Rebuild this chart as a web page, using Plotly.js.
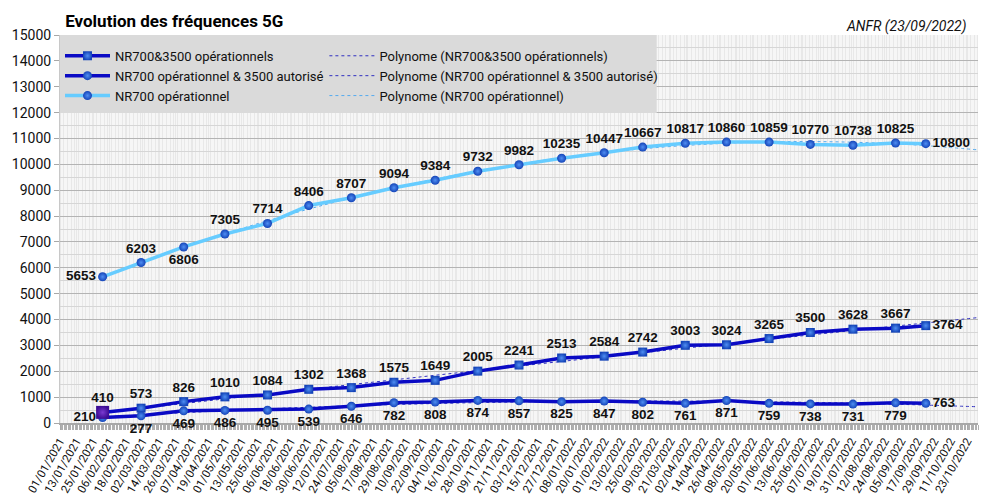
<!DOCTYPE html>
<html>
<head>
<meta charset="utf-8">
<script src="https://cdn.plot.ly/plotly-3.0.1.min.js"></script>
<style>
  html, body { margin: 0; padding: 0; background: #fff; }
  #chart { width: 1003px; height: 499px; }
</style>
</head>
<body>
<div id="chart"></div>
<script>
// dates des relevés ANFR
var dates = ['2021-02-01', '2021-03-01', '2021-04-01', '2021-05-01', '2021-06-01',
             '2021-07-01', '2021-08-01', '2021-09-01', '2021-10-01', '2021-11-01',
             '2021-12-01', '2022-01-01', '2022-02-01', '2022-03-01', '2022-04-01',
             '2022-05-01', '2022-06-01', '2022-07-01', '2022-08-01', '2022-09-01',
             '2022-09-23'];

var nr700 = [5653, 6203, 6806, 7305, 7714, 8406, 8707, 9094, 9384, 9732, 9982,
             10235, 10447, 10667, 10817, 10860, 10859, 10770, 10738, 10825, 10800];

var nr700_3500 = [410, 573, 826, 1010, 1084, 1302, 1368, 1575, 1649, 2005, 2241,
                  2513, 2584, 2742, 3003, 3024, 3265, 3500, 3628, 3667, 3764];

var nr700_aut = [210, 277, 469, 486, 495, 539, 646, 782, 808, 874, 857,
                 825, 847, 802, 761, 871, 759, 738, 731, 779, 763];

var trendEnd = '2022-10-31';

var darkBlue = '#0a0ac4';
var lightBlue = '#66ccff';
var ball = '#1444b8';

function pos(n, first, mid, last) {
  var p = [];
  for (var i = 0; i < n; i++) p.push(i === 0 ? first : (i === n - 1 ? last : mid));
  return p;
}

// polynome d'ordre 2 (moindres carrés), comme la courbe de tendance Excel
function polyTrend(xs, ys) {
  var t0 = new Date(xs[0]).getTime();
  var day = 86400000;
  var t = xs.map(function (d) { return (new Date(d).getTime() - t0) / day; });
  var S = [0, 0, 0, 0, 0], T = [0, 0, 0];
  for (var i = 0; i < t.length; i++) {
    var p = 1;
    for (var k = 0; k < 5; k++) { S[k] += p; if (k < 3) T[k] += p * ys[i]; p *= t[i]; }
  }
  var A = [[S[0], S[1], S[2], T[0]], [S[1], S[2], S[3], T[1]], [S[2], S[3], S[4], T[2]]];
  for (var c = 0; c < 3; c++) {
    for (var r = c + 1; r < 3; r++) {
      var f = A[r][c] / A[c][c];
      for (var j = c; j < 4; j++) A[r][j] -= f * A[c][j];
    }
  }
  var b = [0, 0, 0];
  for (var r2 = 2; r2 >= 0; r2--) {
    var s = A[r2][3];
    for (var j2 = r2 + 1; j2 < 3; j2++) s -= A[r2][j2] * b[j2];
    b[r2] = s / A[r2][r2];
  }
  var tx = xs.concat([trendEnd]);
  var ty = tx.map(function (d) {
    var u = (new Date(d).getTime() - t0) / day;
    return b[0] + b[1] * u + b[2] * u * u;
  });
  return {x: tx, y: ty};
}

var labelFont = {family: 'Liberation Sans, Arial, sans-serif', size: 13.5, color: '#111', weight: 'bold'};

function series(name, y, color, symbol, positions, group) {
  return {
    x: dates, y: y, name: name, type: 'scatter', mode: 'lines+markers+text',
    text: y.map(String), textposition: positions, textfont: labelFont,
    cliponaxis: false, legendgroup: group,
    line: {color: color, width: 3.5},
    marker: {symbol: symbol, size: 9, color: ball,
             gradient: {type: 'radial', color: '#4f8ef2'},
             line: {width: 0}}
  };
}

var n = dates.length;
var s1 = series('NR700&3500 opérationnels', nr700_3500, darkBlue, 'square',
                pos(n, 'top center', 'top center', 'middle right'), 'a');
var s2 = series('NR700 opérationnel & 3500 autorisé', nr700_aut, darkBlue, 'circle',
                pos(n, 'middle left', 'bottom center', 'middle right'), 'b');
var p3 = pos(n, 'middle left', 'top center', 'middle right');
p3[2] = 'bottom center';
var s3 = series('NR700 opérationnel', nr700, lightBlue, 'circle', p3, 'c');

// premier point mis en évidence (cube violet)
var first = {
  x: [dates[0]], y: [nr700_3500[0]], type: 'scatter', mode: 'markers',
  showlegend: false, hoverinfo: 'skip', cliponaxis: false,
  marker: {symbol: 'square', size: 13, color: '#3c0c94',
           gradient: {type: 'radial', color: '#7a3ad0'}, line: {width: 0}}
};

function trend(name, y, color, group) {
  var tr = polyTrend(dates, y);
  return {
    x: tr.x, y: tr.y, name: name, type: 'scatter', mode: 'lines',
    line: {color: color, width: 1, dash: 'dot', shape: 'spline'},
    legend: 'legend2', legendgroup: group, hoverinfo: 'skip'
  };
}

var t1 = trend('Polynome (NR700&3500 opérationnels)', nr700_3500, '#3030c0', 'd');
var t2 = trend('Polynome (NR700 opérationnel & 3500 autorisé)', nr700_aut, '#3030c0', 'e');
var t3 = trend('Polynome (NR700 opérationnel)', nr700, '#55aaee', 'f');

var data = [t1, t2, t3, s1, s2, s3, first];

var legendFont = {family: 'Roboto, sans-serif', size: 13, color: '#111'};

var layout = {
  width: 1003, height: 499,
  margin: {l: 60, r: 25, t: 35, b: 76},
  paper_bgcolor: '#ffffff',
  plot_bgcolor: '#e8e8e8',
  font: {family: 'Roboto, sans-serif', color: '#111'},
  title: {
    text: '<b>Evolution des fréquences 5G</b>',
    font: {family: 'Roboto, sans-serif', size: 17, color: '#000'},
    x: 0.065, xanchor: 'left', xref: 'container',
    y: 0.958, yanchor: 'middle', yref: 'container'
  },
  showlegend: true,
  legend: {
    x: 0.0, y: 0.985, xanchor: 'left', yanchor: 'top',
    bgcolor: 'rgba(0,0,0,0)', borderwidth: 0,
    font: legendFont, itemwidth: 45, tracegroupgap: 3,
    traceorder: 'normal'
  },
  legend2: {
    x: 0.288, y: 0.985, xanchor: 'left', yanchor: 'top',
    bgcolor: 'rgba(0,0,0,0)', borderwidth: 0,
    font: legendFont, itemwidth: 45, tracegroupgap: 3,
    traceorder: 'normal'
  },
  shapes: [{
    type: 'rect', xref: 'paper', yref: 'paper', layer: 'above',
    x0: 0, x1: 0.65, y0: 0.799, y1: 1,
    fillcolor: '#dadada', line: {width: 0}
  }],
  annotations: [{
    text: '<i>ANFR (23/09/2022)</i>', xref: 'paper', yref: 'paper',
    x: 0.989, y: 1.022, xanchor: 'right', yanchor: 'middle', showarrow: false,
    font: {family: 'Roboto, sans-serif', size: 14, color: '#111'}
  }],
  xaxis: {
    type: 'date', layer: 'below traces',
    range: ['2021-01-01', trendEnd],
    tick0: '2021-01-01', dtick: 12 * 86400000,
    tickformat: '%d/%m/%Y', tickangle: -60,
    tickfont: {family: 'Roboto, sans-serif', size: 11.5, color: '#111'},
    showgrid: false, zeroline: false,
    showline: true, linecolor: '#a8a8a8', linewidth: 2,
    ticks: 'outside', ticklen: 5, tickcolor: '#a8a8a8',
    minor: {dtick: 86400000, showgrid: true, gridcolor: '#f6f6f6', gridwidth: 0.6,
            ticks: 'outside', ticklen: 5, tickcolor: '#b0b0b0'}
  },
  yaxis: {
    range: [0, 15000], dtick: 1000, tickformat: 'd', layer: 'below traces',
    tickfont: {family: 'Roboto, sans-serif', size: 14, color: '#111'},
    showgrid: true, gridcolor: '#b4b4b4', gridwidth: 1,
    zeroline: false, showline: true, linecolor: '#c8c8c8', linewidth: 1,
    ticks: 'outside', ticklen: 5, tickcolor: '#a8a8a8',
    minor: {dtick: 500, showgrid: true, gridcolor: '#d6d6d6', gridwidth: 1}
  }
};

var config = {responsive: false, displayModeBar: false};

Plotly.newPlot('chart', data, layout, config);
</script>
</body>
</html>
